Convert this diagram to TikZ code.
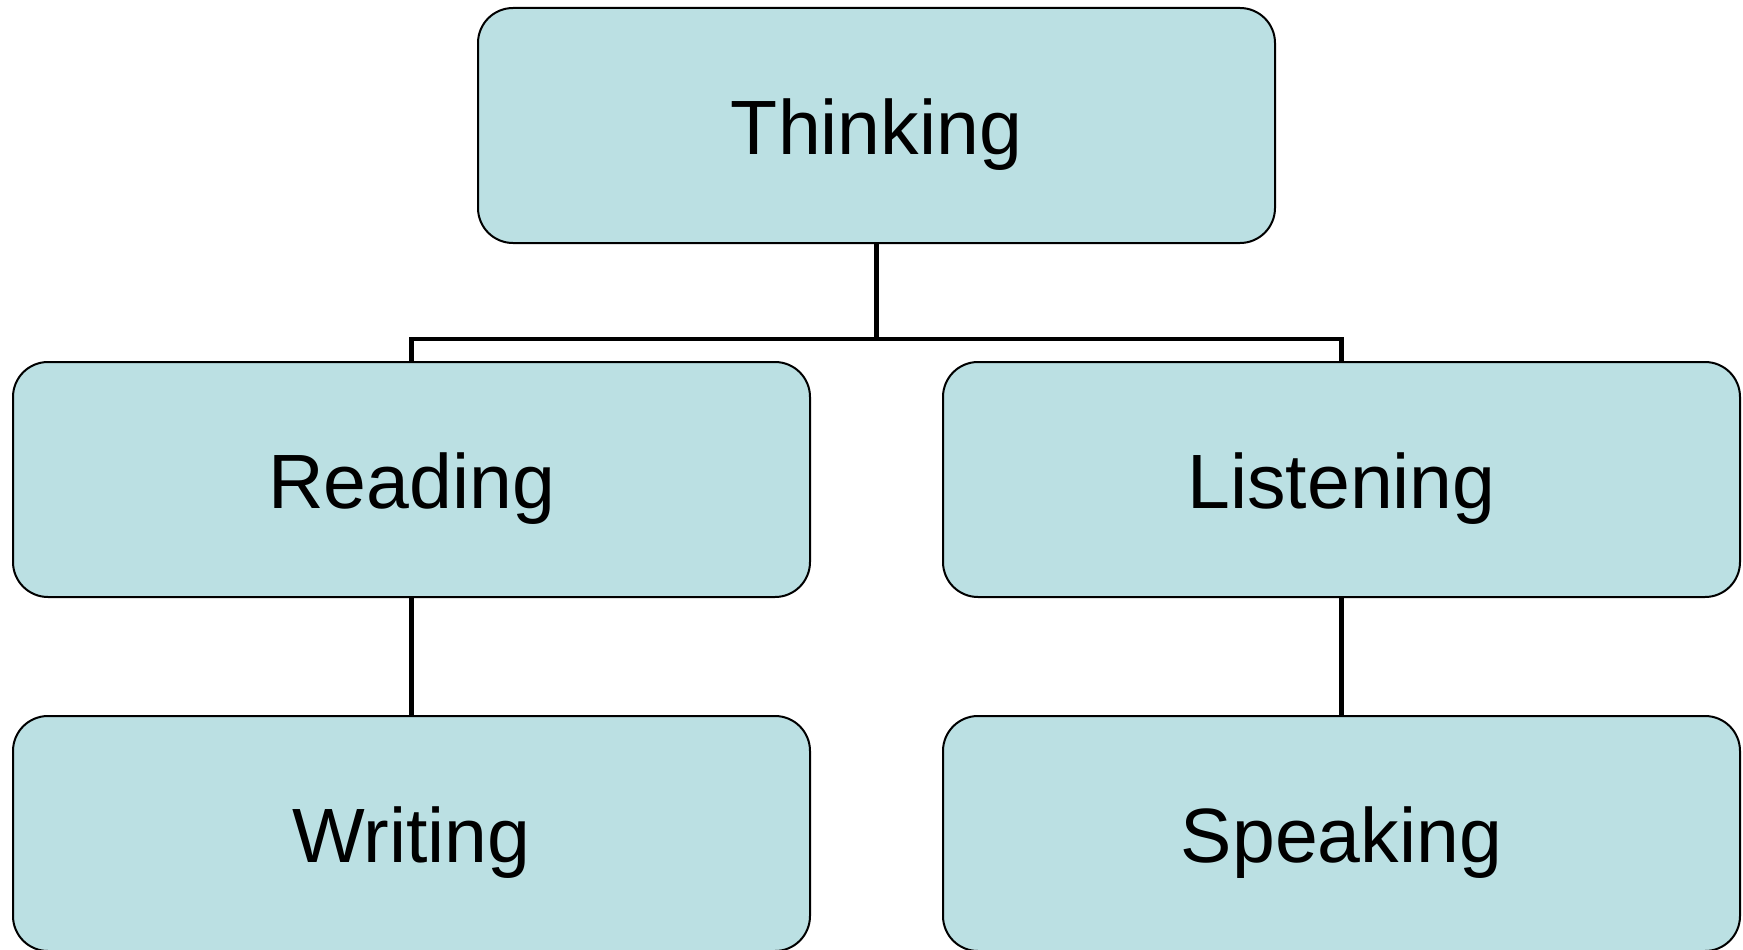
\documentclass[tikz,border=0pt]{standalone}
\usepackage{fontspec}
\setmainfont{Liberation Sans}
\definecolor{boxfill}{HTML}{BBE0E3}
\begin{document}
\begin{tikzpicture}[x=1pt,y=-1pt,
  boxnode/.style={draw=black, line width=2pt, fill=boxfill, rounded corners=35pt,
    minimum width=797pt, minimum height=235pt, inner sep=0pt,
    font=\fontsize{77}{80}\selectfont, text height=57pt, text depth=0pt},
  link/.style={draw=black, line width=4.5pt}]
\useasboundingbox (0,0) rectangle (1743,950);
\node[boxnode] (think) at (876.5,125.5) {Thinking};
\node[boxnode] (read) at (411.5,479.5) {Reading};
\node[boxnode] (listen) at (1341.5,479.5) {Listening};
\node[boxnode] (write) at (411.5,833.5) {Writing};
\node[boxnode] (speak) at (1341.5,833.5) {Speaking};
\draw[link] (think.south) -- ++(0,95) -| (read.north);
\draw[link] (think.south) -- ++(0,95) -| (listen.north);
\draw[link] (read.south) -- (write.north);
\draw[link] (listen.south) -- (speak.north);
\end{tikzpicture}
\end{document}
